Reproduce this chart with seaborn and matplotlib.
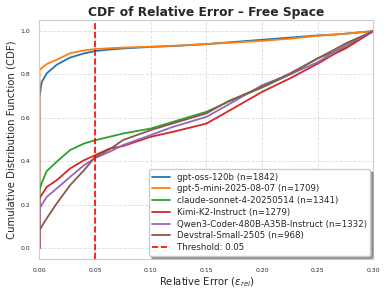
import pandas as pd
import matplotlib
matplotlib.use('Agg')
import matplotlib.pyplot as plt
import seaborn as sns

# Model names and sample sizes
models = ['gpt-oss-120b', 'gpt-5-mini-2025-08-07', 'claude-sonnet-4-20250514',
          'Kimi-K2-Instruct', 'Qwen3-Coder-480B-A35B-Instruct', 'Devstral-Small-2505']
sample_sizes = [1842, 1709, 1341, 1279, 1332, 968]

# Relative error points
rel_error = [0.0, 0.0, 0.002, 0.0065, 0.0155, 0.0275, 0.04, 0.05, 0.063, 0.075,
             0.10, 0.12, 0.15, 0.17, 0.20, 0.225, 0.25, 0.265, 0.275, 0.30]

# CDF values per model at those points
cdf_gpt_oss = [0.0, 0.70, 0.765, 0.805, 0.845, 0.878, 0.897, 0.908, 0.915, 0.920,
               0.927, 0.931, 0.940, 0.948, 0.960, 0.970, 0.980, 0.984, 0.988, 1.0]
cdf_gpt5_mini = [0.0, 0.82, 0.83, 0.848, 0.868, 0.898, 0.911, 0.917, 0.921, 0.924,
                 0.928, 0.932, 0.940, 0.946, 0.955, 0.965, 0.978, 0.984, 0.988, 1.0]
cdf_claude = [0.0, 0.27, 0.30, 0.355, 0.398, 0.452, 0.482, 0.497, 0.513, 0.528,
              0.551, 0.582, 0.628, 0.675, 0.74, 0.80, 0.875, 0.905, 0.925, 1.0]
cdf_kimi = [0.0, 0.23, 0.245, 0.282, 0.313, 0.367, 0.405, 0.428, 0.459, 0.47,
            0.513, 0.536, 0.574, 0.632, 0.72, 0.782, 0.85, 0.895, 0.92, 1.0]
cdf_qwen = [0.0, 0.18, 0.20, 0.236, 0.275, 0.328, 0.382, 0.415, 0.444, 0.475,
            0.521, 0.559, 0.605, 0.662, 0.751, 0.80, 0.857, 0.905, 0.935, 1.0]
cdf_devstral = [0.0, 0.08, 0.10, 0.137, 0.206, 0.29, 0.359, 0.42, 0.455, 0.498,
                0.544, 0.575, 0.621, 0.678, 0.743, 0.805, 0.874, 0.915, 0.943, 1.0]

cdfs = [cdf_gpt_oss, cdf_gpt5_mini, cdf_claude, cdf_kimi, cdf_qwen, cdf_devstral]
threshold = 0.05

sns.set_style('whitegrid')
colors = sns.color_palette('tab10', 6)

fig, ax = plt.subplots(figsize=(3.89, 2.93), dpi=100)

for name, n, cdf, col in zip(models, sample_sizes, cdfs, colors):
    df = pd.DataFrame({'err': rel_error, 'cdf': cdf})
    sns.lineplot(data=df, x='err', y='cdf', sort=False, estimator=None,
                 color=col, linewidth=1.3, label=f'{name} (n={n})', ax=ax)

ax.axvline(threshold, color='red', linestyle='--', linewidth=1.2,
           label=f'Threshold: {threshold}')

ax.set_xlim(0, 0.30)
ax.set_ylim(-0.05, 1.05)
ax.set_xticks([0.0, 0.05, 0.10, 0.15, 0.20, 0.25, 0.30])
ax.set_xticklabels(['0.00', '0.05', '0.10', '0.15', '0.20', '0.25', '0.30'])
ax.set_yticks([0.0, 0.2, 0.4, 0.6, 0.8, 1.0])
ax.tick_params(labelsize=4.4, pad=3)
ax.grid(True, linestyle='--', alpha=0.7, linewidth=0.6)
for s in ax.spines.values():
    s.set_linewidth(0.8)

ax.set_title('CDF of Relative Error – Free Space', fontsize=8.8, fontweight='bold', pad=3)
ax.set_xlabel(r'Relative Error ($\epsilon_{rel}$)', fontsize=7.2, labelpad=2)
ax.set_ylabel('Cumulative Distribution Function (CDF)', fontsize=7.3, labelpad=3)
ax.legend(loc='lower right', fontsize=6.2, shadow=True, frameon=True,
          labelspacing=0.32, borderaxespad=0.4)

fig.subplots_adjust(left=0.1015, right=0.960, top=0.931, bottom=0.116)
fig.savefig('out.png', dpi=100)
